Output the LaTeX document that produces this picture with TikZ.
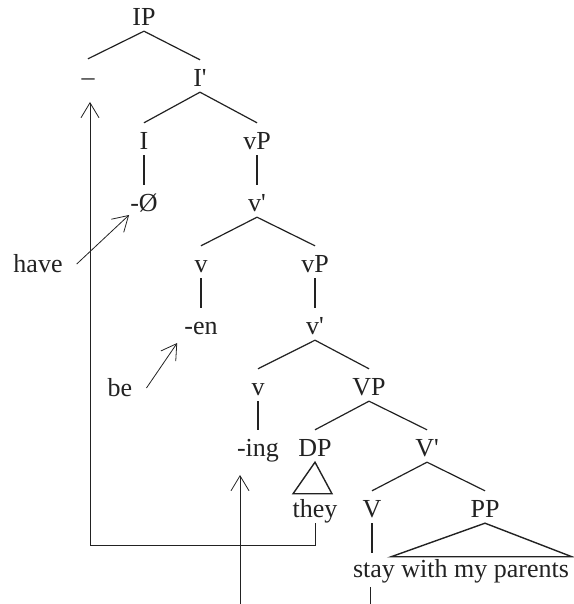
\documentclass[tikz,border=0pt]{standalone}
\usepackage{fontspec}
\setmainfont{Liberation Serif}[Ligatures=TeXOff]
\usetikzlibrary{arrows.meta,calc}
\definecolor{Ink}{HTML}{222222}

\begin{document}
\begin{tikzpicture}[
    x=1pt,y=1pt,
    every node/.style={font=\fontsize{26}{30}\selectfont,text=Ink},
    cat/.style={anchor=base,inner sep=0pt,text height=27pt,text depth=5pt},
    branch/.style={draw=Ink,line width=1.2pt},
    roof/.style={draw=Ink,line width=1.4pt},
    mv/.style={draw=Ink,line width=0.8pt,-{Straight Barb[length=15pt,width=18pt]}},
    trace/.style={draw=Ink,line width=0.8pt}
  ]
    \useasboundingbox (0,0) rectangle (573,604);
    % tree
    \node[cat] (IP) at (144,578) {IP};
    \node[cat] (spec) at (88,518) {–};
    \node[cat] (Ibar) at (200,517) {I'};
    \node[cat] (I) at (144,454) {I};
    \node[cat] (vPa) at (257,454) {vP};
    \node[cat] (null) at (144,392) {-Ø};
    \node[cat] (vbara) at (257,392) {v'};
    \node[cat] (va) at (201,331) {v};
    \node[cat] (vPb) at (315,331) {vP};
    \node[cat] (en) at (201,269) {-en};
    \node[cat] (vbarb) at (315,269) {v'};
    \node[cat] (vb) at (258,208) {v};
    \node[cat] (VP) at (369,208) {VP};
    \node[cat] (ing) at (258,147) {-ing};
    \node[cat] (DP) at (315,147) {DP};
    \node[cat] (Vbar) at (427,147) {V'};
    \node[cat] (they) at (315,86) {they};
    \node[cat] (V) at (372,86) {V};
    \node[cat] (PP) at (485,86) {PP};
    \node[cat] (stay) at (461,26) {stay with my parents};
    % moved words
    \node[cat] (have) at (38,331) {have};
    \node[cat] (be) at (120,207) {be};
    \draw[branch] (IP.south) -- (spec.north);
    \draw[branch] (IP.south) -- (Ibar.north);
    \draw[branch] (Ibar.south) -- (I.north);
    \draw[branch] (Ibar.south) -- (vPa.north);
    \draw[branch] (I.south) -- (null.north);
    \draw[branch] (vPa.south) -- (vbara.north);
    \draw[branch] (vbara.south) -- (va.north);
    \draw[branch] (vbara.south) -- (vPb.north);
    \draw[branch] (va.south) -- (en.north);
    \draw[branch] (vPb.south) -- (vbarb.north);
    \draw[branch] (vbarb.south) -- (vb.north);
    \draw[branch] (vbarb.south) -- (VP.north);
    \draw[branch] (vb.south) -- (ing.north);
    \draw[branch] (VP.south) -- (DP.north);
    \draw[branch] (VP.south) -- (Vbar.north);
    \draw[branch] (Vbar.south) -- (V.north);
    \draw[branch] (Vbar.south) -- (PP.north);
    \draw[branch] (V.south) -- ($(V.south)+(0,-30)$);
    \draw[roof] (DP.south) -- ($(they.north)+(-22,-3)$) -- ($(they.north)+(17,-3)$) -- cycle;
    \draw[roof] (PP.south) -- ($(stay.north)+(-70,-6)$) -- ($(stay.north)+(111,-6)$) -- cycle;
    % movement
    \coordinate (corner) at (90,59);
    \coordinate (tipa) at (90,502);
    \coordinate (foota) at (240,0);
    \coordinate (tipb) at (240,129);
    \coordinate (stayfoot) at (370,17);
    \coordinate (staybot) at (370,0);
    \draw[mv] (they.south) |- (corner) -- (tipa);
    \draw[mv] (foota) -- (tipb);
    \draw[trace] (stayfoot) -- (staybot);
    \draw[mv] ($(have.east)+(14,-2)$) -- ($(null.west)+(-1,-14)$);
    \draw[mv] ($(be.east)+(14,-2)$) -- ($(en.west)+(-7,-19)$);
  \end{tikzpicture}
\end{document}
